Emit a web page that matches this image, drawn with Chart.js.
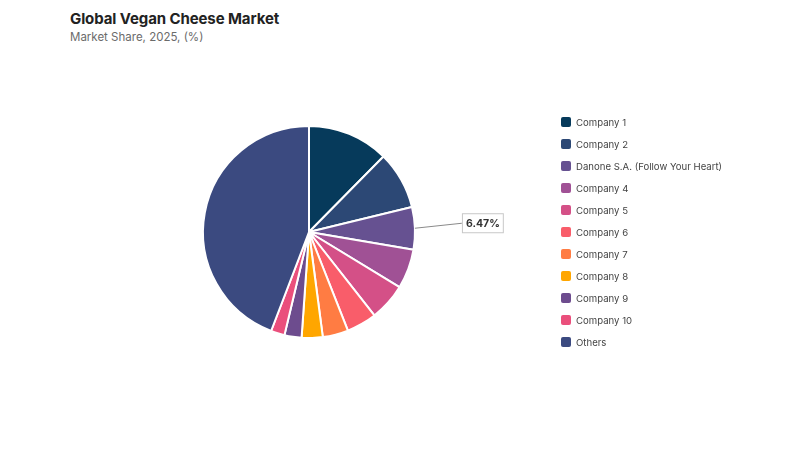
<!DOCTYPE html>
<html>
<head>
<meta charset="utf-8">
<script src="https://cdn.jsdelivr.net/npm/chart.js@4"></script>
<style>
  html, body { margin: 0; padding: 0; background: #fff; }
  body { width: 800px; height: 450px; position: relative; overflow: hidden; font-family: "Inter", "Open Sans", sans-serif; }
  #title { position: absolute; left: 70px; top: 9px; font-size: 15px; font-weight: 700; color: #222; letter-spacing: -0.1px; }
  #subtitle { position: absolute; left: 70px; top: 30px; font-size: 11.5px; color: #6b6b6b; }
  #wrap { position: absolute; left: 0; top: 0; width: 800px; height: 450px; }
  #legend { position: absolute; left: 561px; top: 111px; margin: 0; padding: 0; list-style: none; }
  #legend li { height: 22px; display: flex; align-items: center; font-size: 9.6px; color: #444; }
  #legend .box { width: 10px; height: 10px; border-radius: 2px; margin-right: 5px; display: inline-block; }
</style>
</head>
<body>
<div id="title">Global Vegan Cheese Market</div>
<div id="subtitle">Market Share, 2025, (%)</div>
<div id="wrap"><canvas id="chart"></canvas></div>
<ul id="legend"></ul>
<script>
// ── Data ──────────────────────────────────────────────────────────────────────
const companies = [
  "Company 1", "Company 2", "Danone S.A. (Follow Your Heart)", "Company 4",
  "Company 5", "Company 6", "Company 7", "Company 8", "Company 9",
  "Company 10", "Others",
];
const shares = [12.4, 8.8, 6.47, 6.05, 5.7, 4.6, 3.9, 3.2, 2.6, 2.1, 44.18];
const sliceColors = [
  "#063a5b", "#2c4875", "#665191", "#a05195", "#d45087", "#f95d6a",
  "#ff7c43", "#ffa600", "#6d4c8e", "#ea4f7c", "#3b4a80",
];
const labelledIndex = 2; // only Danone gets a callout

// ── Legend ────────────────────────────────────────────────────────────────────
document.getElementById("legend").innerHTML = companies.map((c, i) =>
  `<li><span class="box" style="background:${sliceColors[i]}"></span>${c}</li>`
).join("");

// ── Callout label ─────────────────────────────────────────────────────────────
const calloutPlugin = {
  id: "callout",
  afterDatasetsDraw(chart) {
    const arc = chart.getDatasetMeta(0).data[labelledIndex];
    if (!arc) return;
    const { x, y, startAngle, endAngle, outerRadius } = arc.getProps(["x", "y", "startAngle", "endAngle", "outerRadius"], true);
    const mid = (startAngle + endAngle) / 2;
    const sx = x + Math.cos(mid) * outerRadius;
    const sy = y + Math.sin(mid) * outerRadius;
    const ex = sx + 47;
    const ey = sy - 5;
    const ctx = chart.ctx;
    const text = shares[labelledIndex].toFixed(2) + "%";

    ctx.save();
    ctx.strokeStyle = "#8a8a8a";
    ctx.lineWidth = 1;
    ctx.beginPath();
    ctx.moveTo(sx, sy);
    ctx.lineTo(ex, ey);
    ctx.stroke();

    ctx.font = "bold 10.5px Inter, 'Open Sans', sans-serif";
    const w = ctx.measureText(text).width + 8;
    const h = 20;
    ctx.fillStyle = "#fff";
    ctx.fillRect(ex, ey - h / 2, w, h);
    ctx.strokeStyle = "#c8c8c8";
    ctx.strokeRect(ex + 0.5, ey - h / 2 + 0.5, w - 1, h - 1);
    ctx.fillStyle = "#333";
    ctx.textBaseline = "middle";
    ctx.fillText(text, ex + 4, ey + 0.5);
    ctx.restore();
  },
};

// ── Chart ─────────────────────────────────────────────────────────────────────
new Chart(document.getElementById("chart"), {
  type: "pie",
  data: {
    labels: companies,
    datasets: [{
      data: shares,
      backgroundColor: sliceColors,
      borderColor: "#ffffff",
      borderWidth: 2,
    }],
  },
  options: {
    responsive: true,
    maintainAspectRatio: false,
    animation: false,
    layout: { padding: { left: 202, right: 384, top: 125, bottom: 111 } },
    plugins: {
      legend: { display: false },
      tooltip: { enabled: false },
    },
  },
  plugins: [calloutPlugin],
});
</script>
</body>
</html>
